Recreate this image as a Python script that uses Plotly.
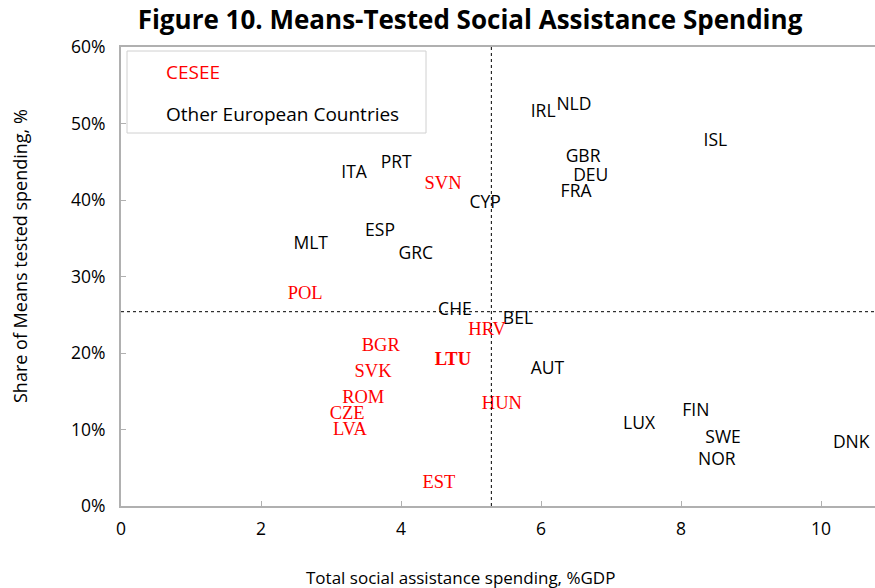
import plotly.graph_objects as go

# CESEE countries
cesee_labels = ["SVN", "POL", "HRV", "BGR", "LTU", "SVK", "ROM", "HUN", "CZE", "LVA", "EST"]
cesee_x = [4.60, 2.63, 5.23, 3.71, 4.74, 3.60, 3.46, 5.44, 3.23, 3.27, 4.54]
cesee_y = [42.0, 27.7, 22.9, 20.9, 19.0, 17.5, 14.1, 13.3, 12.0, 9.9, 3.0]

# Other European countries
other_labels = ["IRL", "NLD", "ISL", "GBR", "DEU", "FRA", "ITA", "PRT", "CYP", "ESP",
                "MLT", "GRC", "CHE", "BEL", "AUT", "LUX", "FIN", "SWE", "NOR", "DNK"]
other_x = [6.03, 6.47, 8.49, 6.60, 6.71, 6.50, 3.33, 3.93, 5.20, 3.70,
           2.71, 4.21, 4.77, 5.67, 6.09, 7.40, 8.21, 8.60, 8.51, 10.43]
other_y = [51.4, 52.3, 47.6, 45.5, 43.1, 41.0, 43.5, 44.8, 39.5, 35.9,
           34.2, 32.8, 25.6, 24.3, 17.8, 10.7, 12.4, 8.8, 5.9, 8.2]

mean_x = 5.29
mean_y = 25.4

x_ticks = [0, 2, 4, 6, 8, 10]
y_ticks = [0, 10, 20, 30, 40, 50, 60]
y_tick_text = [f"{v}%" for v in y_ticks]

SANS = "Open Sans, Noto Sans, sans-serif"
SERIF = "Liberation Serif, serif"

fig = go.Figure()

fig.add_trace(go.Scatter(
    x=other_x, y=other_y, text=other_labels, mode="text",
    textfont=dict(family=SANS, size=17.5, color="black"),
    name="Other European Countries", showlegend=False, cliponaxis=False))

cesee_text = ["<b>%s</b>" % t if t == "LTU" else t for t in cesee_labels]
fig.add_trace(go.Scatter(
    x=cesee_x, y=cesee_y, text=cesee_text, mode="text",
    textfont=dict(family=SERIF, size=18.5, color="#ff0000"),
    name="CESEE", showlegend=False, cliponaxis=False))

fig.add_vline(x=mean_x, line=dict(color="black", width=1, dash="dot"))
fig.add_hline(y=mean_y, line=dict(color="black", width=1, dash="dot"))

W, H = 875, 588
L, R, T, B = 121, 0, 47, 82
pw, ph = W - L - R, H - T - B

def px(xp):
    return (xp - L) / pw

def py(yp):
    return (H - B - yp) / ph

# legend box
fig.add_shape(type="rect", xref="paper", yref="paper",
              x0=px(127), x1=px(426), y0=py(133), y1=py(51),
              line=dict(color="#d0d0d0", width=1), fillcolor="white")
fig.add_annotation(xref="paper", yref="paper", x=px(164), y=py(72), text="CESEE",
                   showarrow=False, xanchor="left", yanchor="middle",
                   font=dict(family=SANS, size=19, color="#ff0000"))
fig.add_annotation(xref="paper", yref="paper", x=px(164), y=py(114), text="Other European Countries",
                   showarrow=False, xanchor="left", yanchor="middle",
                   font=dict(family=SANS, size=19, color="black"))

# axis titles
fig.add_annotation(xref="paper", yref="paper", x=px(460), y=py(577),
                   text="Total social assistance spending, %GDP",
                   showarrow=False, xanchor="center", yanchor="middle",
                   font=dict(family=SANS, size=17, color="black"))
fig.add_annotation(xref="paper", yref="paper", x=px(20), y=py(256),
                   text="Share of Means tested spending, %", textangle=-90,
                   showarrow=False, xanchor="center", yanchor="middle",
                   font=dict(family=SANS, size=18, color="black"))

fig.update_layout(
    width=W, height=H,
    margin=dict(l=L, r=R, t=T, b=B, autoexpand=False),
    plot_bgcolor="white", paper_bgcolor="white",
    title=dict(text="<b>Figure 10. Means-Tested Social Assistance Spending</b>",
               x=470 / W, xanchor="center", y=1 - 20 / H, yanchor="middle",
               font=dict(family=SANS, size=26, color="black")),
    font=dict(family=SANS, color="black"),
)

fig.update_xaxes(range=[0, 10.77], tickvals=x_ticks, showgrid=False, zeroline=False,
                 showline=True, linecolor="#b0b0b0", linewidth=2, mirror=True,
                 ticks="inside", ticklen=5, tickcolor="#b0b0b0",
                 tickfont=dict(size=17.5, color="black"), ticklabelstandoff=6)
fig.update_yaxes(range=[0, 60], tickvals=y_ticks, ticktext=y_tick_text,
                 showgrid=False, zeroline=False,
                 showline=True, linecolor="#b0b0b0", linewidth=2, mirror=True,
                 ticks="inside", ticklen=5, tickcolor="#b0b0b0",
                 tickfont=dict(size=17.5, color="black"), ticklabelstandoff=10)

fig.write_html("out.html", config={"displayModeBar": False},
               post_script="document.body.style.margin='0';document.body.style.overflow='hidden';")
